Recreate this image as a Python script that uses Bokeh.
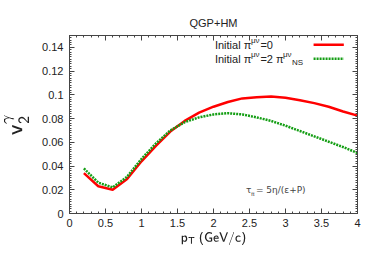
import math
from bokeh.plotting import figure
from bokeh.models import Range1d, LinearAxis, Label, SingleIntervalTicker, ColumnDataSource
from bokeh.embed import file_html
from bokeh.resources import INLINE

# ---- data ----
pt = [0.2, 0.4, 0.6, 0.8, 1.0, 1.2, 1.4, 1.6, 1.8, 2.0, 2.2, 2.4, 2.6, 2.8, 3.0, 3.2, 3.4, 3.6, 3.8, 4.0]
v2_zero = [0.034, 0.023, 0.020, 0.029, 0.044, 0.057, 0.069, 0.078, 0.085, 0.090, 0.094, 0.097, 0.098, 0.0985,
           0.0975, 0.0955, 0.093, 0.090, 0.086, 0.0825]
v2_ns = [0.038, 0.026, 0.022, 0.031, 0.046, 0.059, 0.070, 0.077, 0.081, 0.0835, 0.0845, 0.0835, 0.081, 0.078,
         0.074, 0.0695, 0.065, 0.0605, 0.056, 0.051]
x_ticks = [0, 0.5, 1, 1.5, 2, 2.5, 3, 3.5, 4]
y_ticks = [0, 0.02, 0.04, 0.06, 0.08, 0.1, 0.12, 0.14]

FONT = "Liberation Sans"
AX = "#444444"
GREEN = "#149e14"

p = figure(width=372, height=260, output_backend="svg", toolbar_location=None,
           x_range=Range1d(0, 4), y_range=Range1d(0, 0.15),
           min_border_left=69, min_border_right=15, min_border_top=35, min_border_bottom=47,
           x_axis_type=None, y_axis_type=None, title="QGP+HM")
p.title.align = "center"
p.title.text_font = FONT
p.title.text_font_size = "11px"
p.title.text_font_style = "normal"
p.title.text_color = "#222222"
p.title.standoff = 13
p.grid.visible = False
p.outline_line_color = AX
p.outline_line_width = 1
p.background_fill_color = "white"
p.border_fill_color = "white"

def style(ax, labels=True):
    ax.axis_line_color = AX
    ax.major_tick_line_color = AX
    ax.minor_tick_line_color = AX
    ax.major_tick_in = 5
    ax.major_tick_out = 0
    ax.minor_tick_in = 2
    ax.minor_tick_out = 0
    ax.major_label_text_font = FONT
    ax.major_label_text_font_size = "11px"
    ax.major_label_text_color = "#222222"
    if not labels:
        ax.major_label_text_font_size = "0px"
        ax.major_label_text_color = None

xb = LinearAxis(ticker=SingleIntervalTicker(interval=0.5, num_minor_ticks=5)); style(xb); xb.major_label_standoff = 5
xa = LinearAxis(ticker=SingleIntervalTicker(interval=0.5, num_minor_ticks=5)); style(xa, False)
yl = LinearAxis(ticker=SingleIntervalTicker(interval=0.02, num_minor_ticks=10)); style(yl); yl.major_label_standoff = 6
yr = LinearAxis(ticker=SingleIntervalTicker(interval=0.02, num_minor_ticks=10)); style(yr, False)

xb.axis_label = r"$$\mathsf{p_T\ (GeV/c)}$$"
xb.axis_label_text_font_size = "11px"
xb.axis_label_standoff = 2
xb.axis_label_text_color = "#222222"
yl.axis_label = r"$$\mathsf{v_2^{\gamma}}$$"
yl.axis_label_text_font_size = "18px"
yl.axis_label_standoff = 10
yl.axis_label_text_color = "#222222"

p.add_layout(xb, "below")
p.add_layout(xa, "above")
p.add_layout(yl, "left")
p.add_layout(yr, "right")

src = ColumnDataSource(dict(pt=pt, a=v2_zero, b=v2_ns))
p.line("pt", "a", source=src, line_color="#ff0000", line_width=2.5)
p.line("pt", "b", source=src, line_color=GREEN, line_width=2.5, line_dash="2 1")

def lab(x, y, text, size=11, xo=0, yo=0, align="left", angle=0, font=FONT, color="#222222"):
    p.add_layout(Label(x=x, y=y, text=text, x_offset=xo, y_offset=yo, text_font=font,
                       text_font_size=f"{size}px", text_align=align, text_baseline="middle",
                       angle=angle, text_color=color))

# legend
lx, ly1, ly2 = 2.02, 0.1423, 0.1305
lab(lx, ly1, "Initial π")
lab(lx, ly1, "μν", size=8, xo=36, yo=4)
lab(lx, ly1, "=0", xo=45.5)
lab(lx, ly2, "Initial π")
lab(lx, ly2, "μν", size=8, xo=36, yo=4)
lab(lx, ly2, "=2 π", xo=45.5)
lab(lx, ly2, "μν", size=8, xo=68, yo=4)
lab(lx, ly2, "NS", size=8, xo=77, yo=-4)
key_x = [3.39, 3.81]
p.line(key_x, [ly1, ly1], line_color="#ff0000", line_width=2.5)
p.line(key_x, [ly2, ly2], line_color=GREEN, line_width=2.5, line_dash="2 1")

# annotation
ax_, ay_ = 2.45, 0.0194
lab(ax_, ay_, "τ", size=9, font="DejaVu Sans", color="#444444")
lab(ax_, ay_, "π", size=6, font="DejaVu Sans", xo=5, yo=-3, color="#444444")
lab(ax_, ay_, "=  5η/(ε+P)", size=9, font="DejaVu Sans", xo=10, color="#444444")

open("out.html", "w").write(file_html(p, INLINE))
